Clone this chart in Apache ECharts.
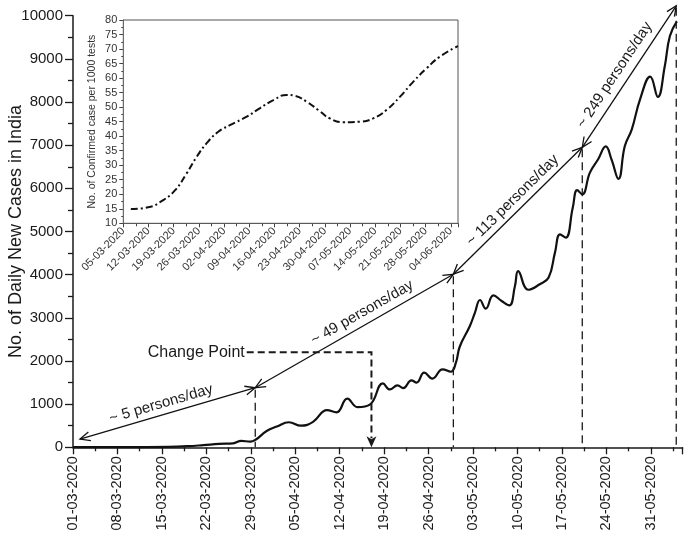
<!DOCTYPE html>
<html>
<head>
<meta charset="utf-8">
<script src="https://cdn.jsdelivr.net/npm/echarts@6/dist/echarts.min.js"></script>
<style>
  html, body { margin: 0; padding: 0; background: #fff; }
  #chart { width: 685px; height: 534px; }
</style>
</head>
<body>
<div id="chart"></div>
<script>
// main chart: daily new cases, x = days since 01-03-2020
const caseDays = [0, 5, 10, 15, 18, 20.5, 23, 25.2, 26.5, 27.9, 28.8, 30.5, 32.1, 34.0, 35.9, 37.8,
  40, 41.5, 43.2, 44.8, 46.8, 48.8, 49.9, 51.1, 52, 53.3, 54.1, 55.3, 56.6, 58.2, 59.5, 60.3, 60.9,
  62.5, 63.3, 64.1, 65, 66.2, 67.5, 68.7, 69.6, 70.1, 71.7, 73.5, 74.9, 75.9, 76.7, 77.6, 78.7,
  79.4, 80.2, 81.4, 82.7, 83.9, 84.8, 85.9, 86.9, 88, 89.3, 90.9, 92.1, 93.2, 94, 95.1];
const caseValues = [2, 3, 5, 10, 25, 50, 80, 92, 150, 130, 180, 378, 480, 580, 500, 590,
  860, 810, 1128, 930, 996, 1480, 1340, 1437, 1370, 1552, 1500, 1731, 1592, 1807, 1750, 1960, 2330,
  2811, 3120, 3413, 3214, 3520, 3390, 3290, 3737, 4080, 3650, 3777, 3932, 4511, 4935, 4858, 5550,
  5960, 5860, 6364, 6673, 6970, 6673, 6220, 6981, 7368, 8063, 8590, 8120, 8835, 9530, 9870];

// inset: confirmed cases per 1000 tests, x = days since 05-03-2020
const ratioDays = [2.1, 6.9, 11.1, 14.4, 17.6, 20.4, 23.1, 26.4, 29.6, 34.3, 37.9, 41.7, 45.4, 47.7,
  50.9, 54.2, 57.4, 61.1, 65.7, 69.4, 73.1, 76.9, 80.6, 84.3, 88.0, 93.0];
const ratioValues = [14.9, 15.5, 18.0, 21.4, 27.2, 32.9, 37.5, 41.5, 43.8, 46.7, 49.6, 52.4, 54.2, 53.9,
  51.9, 49.0, 46.1, 44.8, 45.0, 46.1, 49.0, 53.6, 58.8, 63.4, 67.4, 71.0];

// trend segments (break points) and their slopes
const trendDays = [1.1, 28.7, 59.9, 80.2, 95.0];
const trendCases = [190, 1380, 4010, 6950, 10230];
const trendLabels = ['~ 5 persons/day', '~ 49 persons/day', '~ 113 persons/day', '~ 249 persons/day'];
const trendLabelAt = [0.48, 0.57, 0.52, 0.46];
const trendLabelGap = [11, 12, 11, 13];

// change point marker
const changeDay = 47.0;
const changeLevel = 2200;
const changeTextDay = 27.2;

const mainStart = Date.UTC(2020, 2, 1);
const insetStart = Date.UTC(2020, 2, 5);
const FONT = 'Liberation Sans, Arial, sans-serif';
const INK = '#1a1a1a';

function fmtDate(start, v) {
  if (Math.abs(v / 7 - Math.round(v / 7)) > 1e-6) return '';
  const d = new Date(start + Math.round(v) * 86400000);
  const p = n => String(n).padStart(2, '0');
  return p(d.getUTCDate()) + '-' + p(d.getUTCMonth() + 1) + '-' + d.getUTCFullYear();
}

const chart = echarts.init(document.getElementById('chart'));

const option = {
  animation: false,
  backgroundColor: '#fff',
  textStyle: { fontFamily: FONT, color: INK },
  grid: [
    { left: 73, right: 2.4, top: 15.7, bottom: 86.7, outerBoundsMode: 'none', containLabel: false },
    { left: 123.3, right: 227, top: 20, bottom: 310.7, outerBoundsMode: 'none', containLabel: false,
      show: true, backgroundColor: '#fff', borderColor: '#555', borderWidth: 1, z: 5 }
  ],
  xAxis: [
    {
      gridIndex: 0, type: 'value', min: 0, max: 96, interval: 7,
      axisLine: { lineStyle: { color: INK, width: 1.5 } },
      axisTick: { length: 7, lineStyle: { color: INK, width: 1.3 } },
      minorTick: { show: true, splitNumber: 2, length: 4, lineStyle: { color: INK, width: 1.3 } },
      splitLine: { show: false },
      axisLabel: { rotate: 90, fontSize: 14.5, color: INK, margin: 9, formatter: v => fmtDate(mainStart, v) }
    },
    {
      gridIndex: 1, type: 'value', min: 0, max: 93, interval: 7,
      axisLine: { lineStyle: { color: '#444', width: 1 } },
      axisTick: { length: 4, lineStyle: { color: '#444' } },
      minorTick: { show: true, splitNumber: 2, length: 3, lineStyle: { color: '#444' } },
      splitLine: { show: false },
      axisLabel: { rotate: 45, fontSize: 11, color: '#333', margin: 6, formatter: v => fmtDate(insetStart, v) }
    }
  ],
  yAxis: [
    {
      gridIndex: 0, type: 'value', min: 0, max: 10000, interval: 1000,
      name: 'No. of Daily New Cases in India', nameLocation: 'middle', nameGap: 48, nameMoveOverlap: false,
      nameTextStyle: { fontSize: 18, color: INK },
      axisLine: { show: true, lineStyle: { color: INK, width: 1.5 } },
      axisTick: { show: true, length: 8, lineStyle: { color: INK, width: 1.3 } },
      minorTick: { show: true, splitNumber: 2, length: 5, lineStyle: { color: INK, width: 1.3 } },
      splitLine: { show: false },
      axisLabel: { fontSize: 15, color: INK, margin: 10, formatter: v => String(v) }
    },
    {
      gridIndex: 1, type: 'value', min: 10, max: 80, interval: 5,
      name: 'No. of Confirmed case per 1000 tests', nameLocation: 'middle', nameGap: 26, nameMoveOverlap: false,
      nameTextStyle: { fontSize: 10.5, color: '#333' },
      axisLine: { show: true, lineStyle: { color: '#444', width: 1 } },
      axisTick: { show: true, length: 4, lineStyle: { color: '#444' } },
      minorTick: { show: true, splitNumber: 2, length: 2, lineStyle: { color: '#444' } },
      splitLine: { show: false },
      axisLabel: { fontSize: 11, color: '#333', margin: 6, formatter: v => String(v) }
    }
  ],
  series: [
    {
      type: 'line', xAxisIndex: 0, yAxisIndex: 0, smooth: 0.45, symbol: 'none',
      data: caseDays.map((d, i) => [d, caseValues[i]]),
      lineStyle: { color: '#111', width: 2.2 }
    },
    {
      type: 'line', xAxisIndex: 1, yAxisIndex: 1, smooth: true, symbol: 'none', z: 6,
      data: ratioDays.map((d, i) => [d, ratioValues[i]]),
      lineStyle: { color: '#111', width: 2, type: [7, 3, 2, 3] }
    }
  ]
};

chart.setOption(option);

// annotations: placed through the main grid's scales
const toPx = (d, c) => chart.convertToPixel({ xAxisIndex: 0, yAxisIndex: 0 }, [d, c]);

function arrowHead(tip, from, len, ang) {
  const dx = tip[0] - from[0], dy = tip[1] - from[1];
  const L = Math.hypot(dx, dy);
  const bx = -dx / L, by = -dy / L;
  const wing = s => {
    const c = Math.cos(s * ang), sn = Math.sin(s * ang);
    return [tip[0] + len * (bx * c - by * sn), tip[1] + len * (bx * sn + by * c)];
  };
  return { type: 'polyline', z: 20, shape: { points: [wing(1), tip, wing(-1)] },
    style: { stroke: '#111', lineWidth: 1.3, fill: 'none' } };
}

const graphics = [];
const pts = trendDays.map((d, i) => toPx(d, trendCases[i]));
const y0 = toPx(0, 0)[1];

for (let i = 0; i < pts.length - 1; i++) {
  const a = pts[i], b = pts[i + 1];
  graphics.push({ type: 'line', z: 20, shape: { x1: a[0], y1: a[1], x2: b[0], y2: b[1] },
    style: { stroke: '#111', lineWidth: 1.3 } });
  graphics.push(arrowHead(b, a, 11, 0.42));
  graphics.push(arrowHead(a, b, 11, 0.42));
  const ang = Math.atan2(a[1] - b[1], b[0] - a[0]);
  const f = trendLabelAt[i], g = trendLabelGap[i];
  const mx = a[0] + f * (b[0] - a[0]), my = a[1] + f * (b[1] - a[1]);
  graphics.push({ type: 'text', z: 20, x: mx - g * Math.sin(ang), y: my - g * Math.cos(ang), rotation: ang,
    style: { text: trendLabels[i], fontSize: 15, fontFamily: FONT, fill: INK, align: 'center', verticalAlign: 'middle' } });
}

for (let i = 1; i < pts.length; i++) {
  graphics.push({ type: 'line', z: 19, shape: { x1: pts[i][0], y1: pts[i][1] + 2, x2: pts[i][0], y2: y0 },
    style: { stroke: INK, lineWidth: 1.3, lineDash: [8, 5] } });
}

const cp = toPx(changeDay, changeLevel);
const ct = toPx(changeTextDay, changeLevel);
graphics.push({ type: 'text', z: 20, x: ct[0] - 1, y: ct[1],
  style: { text: 'Change Point', fontSize: 16, fontFamily: FONT, fill: INK, align: 'right', verticalAlign: 'middle' } });
graphics.push({ type: 'polyline', z: 20, shape: { points: [[ct[0] + 1, ct[1]], [cp[0], cp[1]], [cp[0], y0 - 9]] },
  style: { stroke: INK, lineWidth: 2, lineDash: [7, 4], fill: 'none' } });
graphics.push({ type: 'polygon', z: 21,
  shape: { points: [[cp[0], y0], [cp[0] - 5, y0 - 11], [cp[0], y0 - 8], [cp[0] + 5, y0 - 11]] },
  style: { fill: INK } });

chart.setOption({ graphic: graphics });
</script>
</body>
</html>
